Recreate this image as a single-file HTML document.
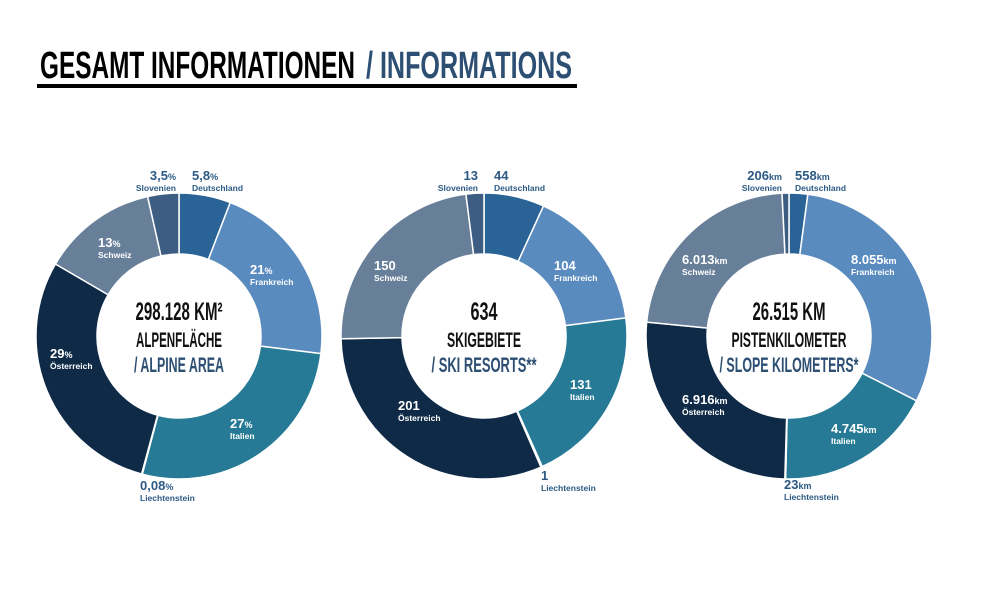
<!DOCTYPE html>
<html><head><meta charset="utf-8"><style>
body{margin:0;background:#fff;width:1000px;height:600px;overflow:hidden}
svg{display:block}
.n{font-family:"Liberation Sans",sans-serif;font-weight:bold;font-size:13px}
.u{font-size:9px}
.c{font-family:"Liberation Sans",sans-serif;font-weight:bold;font-size:8.5px}
.h{font-family:"Liberation Sans Narrow","Liberation Sans",sans-serif;font-weight:bold}
</style></head><body>
<svg id="chart" width="1000" height="600">
<text class="h" x="40" y="78" font-size="38" fill="#000" textLength="315" lengthAdjust="spacingAndGlyphs">GESAMT INFORMATIONEN</text>
<text class="h" x="366" y="78" font-size="38" fill="#2c4f73" textLength="206" lengthAdjust="spacingAndGlyphs">/ INFORMATIONS</text>
<rect x="37" y="84" width="540" height="4" fill="#000"/>
<g id="donuts"></g>
</svg>
<script>
const countries=["Deutschland","Frankreich","Italien","Liechtenstein","Österreich","Schweiz","Slovenien"];
const colors=["#2a6496","#5a8bbf","#267a95","#8aa3bd","#0e2a47","#687f9a","#3d5e82"];
const areaValues=[5.8,21,27,0.08,29,13,3.5];
const resortValues=[44,104,131,1,201,150,13];
const slopeValues=[558,8055,4745,23,6916,6013,206];
const areaLabels=["5,8","21","27","0,08","29","13","3,5"];
const resortLabels=["44","104","131","1","201","150","13"];
const slopeLabels=["558","8.055","4.745","23","6.916","6.013","206"];
const charts=[
 {cx:179,values:areaValues,labels:areaLabels,unit:"%",name:"area",
  pos:[[192,180,0],[250,274,0],[230,428,0],[140,490,0],[50,358,0],[98,247,0],[176,180,1]],
  t:[["298.128 KM²",320,25,"#111",87],["ALPENFLÄCHE",347,21,"#111",86],["/ ALPINE AREA",372,21,"#2c4f73",90]]},
 {cx:484,values:resortValues,labels:resortLabels,unit:"",name:"resorts",
  pos:[[494,180,0],[554,270,0],[570,389,0],[541,480,0],[398,410,0],[374,270,0],[478,180,1]],
  t:[["634",320,25,"#111",27],["SKIGEBIETE",347,21,"#111",74],["/ SKI RESORTS**",372,21,"#2c4f73",105]]},
 {cx:789,values:slopeValues,labels:slopeLabels,unit:"km",name:"slopes",
  pos:[[795,180,0],[851,264,0],[831,433,0],[784,489,0],[682,404,0],[682,264,0],[782,180,1]],
  t:[["26.515 KM",320,25,"#111",73],["PISTENKILOMETER",347,21,"#111",115],["/ SLOPE KILOMETERS*",372,21,"#2c4f73",139]]}
];
const NS="http://www.w3.org/2000/svg";
const g=document.getElementById("donuts");
const cy=336,R=143,r=82;
function pt(cx,a,rad){return [cx+rad*Math.sin(a),cy-rad*Math.cos(a)];}
charts.forEach(ch=>{
 const tot=ch.values.reduce((a,b)=>a+b,0);
 let a0=0;
 ch.values.forEach((v,i)=>{
  const a1=a0+v/tot*2*Math.PI;
  const large=(a1-a0)>Math.PI?1:0;
  const p1=pt(ch.cx,a0,R),p2=pt(ch.cx,a1,R),p3=pt(ch.cx,a1,r),p4=pt(ch.cx,a0,r);
  const p=document.createElementNS(NS,"path");
  p.setAttribute("d",`M${p1[0]},${p1[1]}A${R},${R} 0 ${large} 1 ${p2[0]},${p2[1]}L${p3[0]},${p3[1]}A${r},${r} 0 ${large} 0 ${p4[0]},${p4[1]}Z`);
  p.setAttribute("fill",colors[i]);p.setAttribute("stroke","#fff");p.setAttribute("stroke-width","1.5");
  
  
  g.appendChild(p);
  a0=a1;
 });
 ch.values.forEach((v,i)=>{
  const [x,y,rt]=ch.pos[i];
  const inside=!(y<190||y>470);
  const col=inside?"#fff":"#2c5a85";
  const t=document.createElementNS(NS,"text");
  t.setAttribute("class","n");t.setAttribute("x",x);t.setAttribute("y",y);t.setAttribute("fill",col);
  if(rt)t.setAttribute("text-anchor","end");
  t.innerHTML=ch.labels[i]+(ch.unit?'<tspan class="u">'+ch.unit+'</tspan>':'');
  
  
  g.appendChild(t);
  const c=document.createElementNS(NS,"text");
  c.setAttribute("class","c");c.setAttribute("x",x);c.setAttribute("y",y+11);c.setAttribute("fill",col);
  if(rt)c.setAttribute("text-anchor","end");
  c.textContent=countries[i];
  
  
  g.appendChild(c);
 });
 ch.t.forEach(d=>{
  const t=document.createElementNS(NS,"text");
  t.setAttribute("class","h");t.setAttribute("x",ch.cx-d[4]/2);t.setAttribute("y",d[1]);
  t.setAttribute("font-size",d[2]);t.setAttribute("fill",d[3]);
  t.setAttribute("textLength",d[4]);t.setAttribute("lengthAdjust","spacingAndGlyphs");
  t.textContent=d[0];
  
  
  g.appendChild(t);
 });
});
</script>
</body></html>
